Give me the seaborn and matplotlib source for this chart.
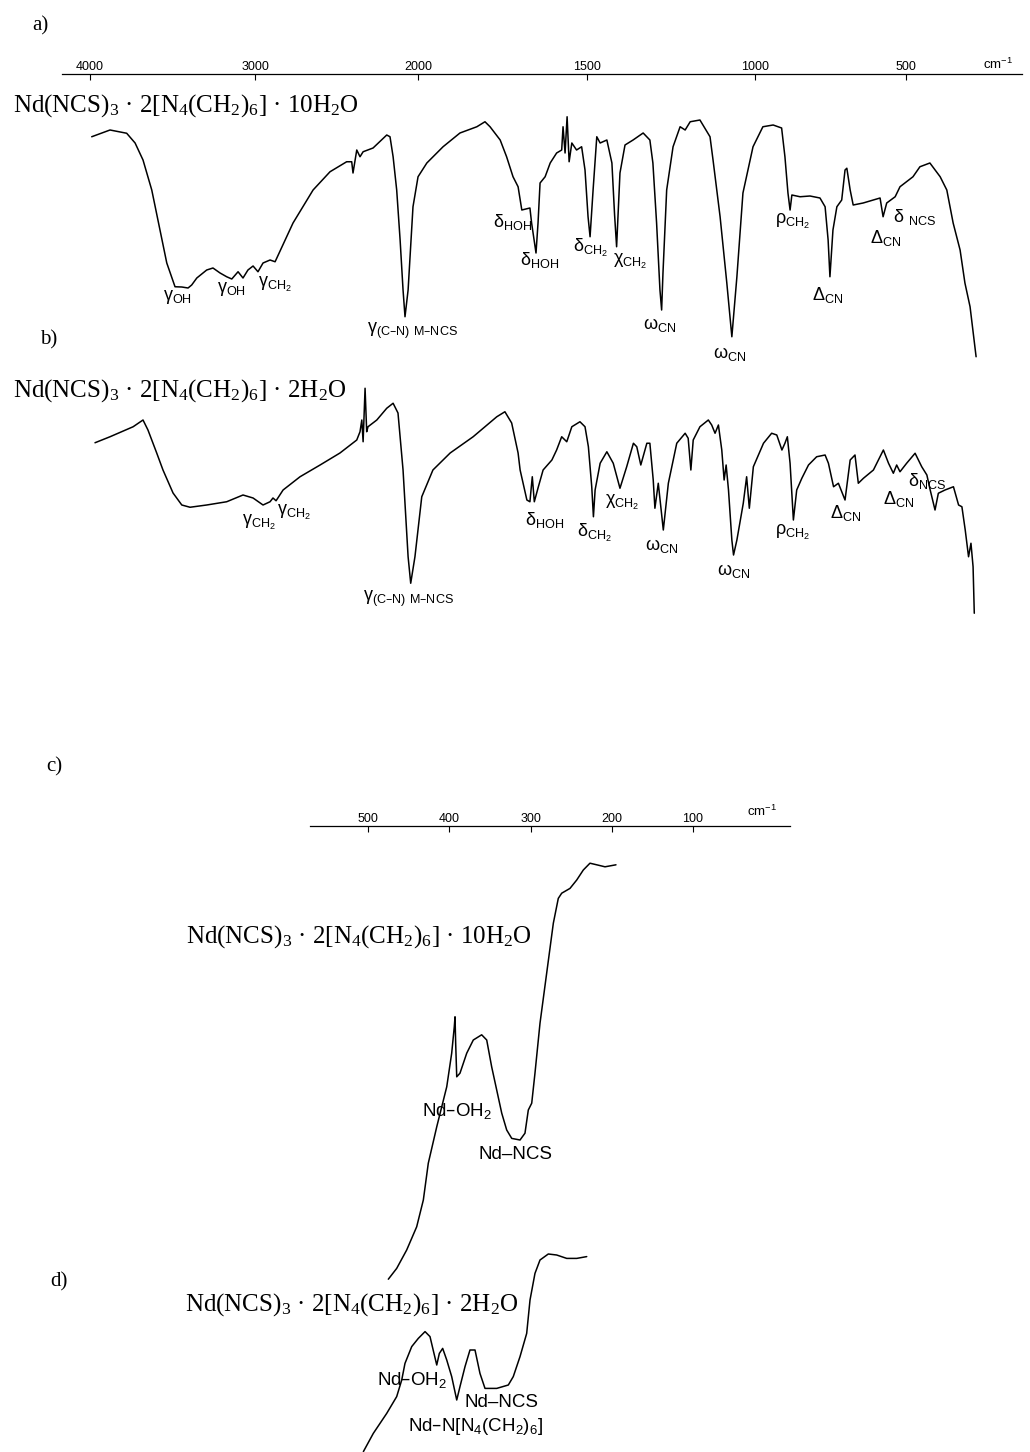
import numpy as np
import matplotlib
matplotlib.use("Agg")
import matplotlib.pyplot as plt
import seaborn as sns

# IR spectra of Nd(NCS)3 . 2 hexamine . n H2O
# wavenumber in cm-1, transmittance in arbitrary % units

# a) decahydrate, 4000-250 cm-1
WN_A = [3990, 3879, 3778, 3727, 3679, 3626, 3576, 3535, 3485, 3444,
        3406, 3384, 3353, 3293, 3255, 3212, 3172, 3141, 3103, 3073,
        3043, 3012, 2982, 2951, 2908, 2877, 2767, 2644, 2540, 2438,
        2407, 2399, 2376, 2356, 2337, 2276, 2192, 2172, 2153, 2131,
        2110, 2092, 2080, 2061, 2031, 2000, 1974, 1926, 1876, 1826,
        1802, 1787, 1757, 1738, 1719, 1704, 1693, 1669, 1664, 1651,
        1645, 1639, 1624, 1609, 1590, 1575, 1571, 1565, 1559, 1553,
        1545, 1531, 1516, 1506, 1497, 1491, 1482, 1471, 1461, 1441,
        1426, 1418, 1412, 1402, 1387, 1363, 1333, 1313, 1304, 1293,
        1283, 1278, 1274, 1263, 1244, 1223, 1208, 1193, 1164, 1134,
        1125, 1104, 1084, 1069, 1054, 1036, 1006, 974, 940, 912,
        901, 891, 884, 878, 851, 818, 785, 768, 758, 752,
        742, 729, 713, 702, 696, 685, 675, 642, 586, 576,
        564, 536, 520, 477, 454, 421, 387, 365, 344, 321,
        305, 288, 268]
T_A = [89.3, 92, 90.7, 86.8, 80, 68, 52, 38.8, 29.3, 29.2,
       28.8, 30, 32.8, 36, 36.8, 34.8, 33.3, 32.4, 35.3, 32.8,
       36, 37.6, 35.3, 38.8, 40, 39.3, 54.8, 68, 75.3, 79.3,
       79.3, 74.8, 84, 81.3, 83.3, 84.8, 90, 89.3, 81.3, 68,
       48, 28, 17.3, 28, 61.3, 73.3, 78.8, 85.3, 90.8, 93.3,
       95.3, 93.3, 88, 81.3, 73.3, 69.3, 60, 60.8, 54.8, 42.8,
       54.8, 70.8, 73.3, 78.8, 82.8, 84, 93.3, 82.8, 97.3, 79.3,
       86.8, 84, 85.3, 76, 57.3, 49.3, 68, 89.3, 86.8, 88,
       78.8, 58, 45.3, 74.8, 86, 88, 90.8, 88, 78.8, 54.8,
       28, 20, 34.8, 68, 85.3, 93.3, 92, 95.3, 96, 89.3,
       80, 57.3, 30.8, 9.3, 33.3, 66.8, 85.3, 93.3, 94, 92.8,
       81.3, 66.8, 60, 66, 65.3, 65.6, 64.8, 61.3, 48, 33.3,
       52, 61.3, 64, 76, 76.7, 68, 62, 62.8, 64.8, 57.3,
       62.8, 65.3, 69.3, 73.3, 77.3, 78.8, 73.3, 68, 54.8, 44,
       30.8, 21.3, 1.3]

# b) dihydrate, 4000-250 cm-1
WN_B = [3970, 3879, 3739, 3679, 3649, 3596, 3558, 3497, 3444, 3394,
        3293, 3172, 3073, 3012, 2951, 2908, 2890, 2871, 2828, 2724,
        2601, 2479, 2376, 2356, 2345, 2337, 2325, 2315, 2307, 2253,
        2192, 2153, 2123, 2092, 2061, 2045, 2019, 1989, 1956, 1905,
        1837, 1767, 1743, 1723, 1704, 1698, 1678, 1669, 1662, 1656,
        1644, 1630, 1604, 1590, 1575, 1560, 1545, 1521, 1506, 1496,
        1486, 1481, 1476, 1461, 1441, 1422, 1402, 1382, 1362, 1352,
        1340, 1322, 1313, 1303, 1298, 1288, 1273, 1258, 1233, 1208,
        1199, 1191, 1184, 1164, 1139, 1129, 1119, 1109, 1099, 1092,
        1086, 1079, 1069, 1064, 1054, 1035, 1025, 1017, 1005, 972,
        945, 928, 911, 901, 893, 884, 873, 862, 845, 823,
        796, 768, 757, 740, 724, 702, 685, 669, 658, 641,
        608, 575, 558, 542, 531, 520, 498, 470, 448, 431,
        420, 404, 393, 371, 343, 326, 315, 304, 293, 285,
        278, 274]
T_B = [68.9, 71.3, 75.3, 78, 74, 64.8, 58, 48.8, 44, 43.1,
       44, 45.3, 48, 46.8, 44, 45.3, 46.8, 45.7, 50, 55.3,
       60, 64.8, 70, 73.3, 78, 69.3, 90.7, 73.3, 75.3, 78,
       82.7, 84.7, 80.8, 58, 23.3, 12.7, 23.3, 47.3, 58, 64.8,
       71.3, 79.3, 81.3, 76.8, 64.8, 58, 46, 45.3, 55.3, 45.3,
       51.3, 58, 62, 66, 71.3, 69.3, 75.3, 77.3, 75.3, 67.3,
       51.3, 39.3, 50, 60.7, 65.3, 60.7, 50.7, 59.3, 68.7, 67.3,
       60, 68.7, 68.7, 54, 42.7, 52.7, 34, 52.7, 68.7, 72.7,
       70.7, 58, 70, 75.3, 78, 76, 72.7, 76, 66, 54,
       60, 50, 30, 24, 30, 44.7, 55.3, 42.7, 59.3, 68.7,
       72.7, 72, 66, 68.7, 71.3, 60.7, 38, 50, 54.7, 60,
       63.3, 64, 60.7, 51.3, 52.7, 46, 62, 64, 52.7, 54.7,
       58, 66, 60.7, 56.7, 60, 57.3, 60.7, 64.7, 59.3, 56,
       50, 42, 48.7, 50, 51.3, 44, 43.3, 34, 23.3, 28.7,
       19.3, 0.7]

# c) decahydrate, far IR
WN_C = [475.0, 464.7, 452.4, 440.1, 431.9, 425.8, 415.4, 403.1, 397.0, 393.8,
        392.9, 392.1, 390.8, 386.8, 378.5, 370.4, 360.1, 353.9, 347.8, 341.6,
        335.4, 329.3, 323.1, 312.9, 306.8, 302.7, 298.5, 294.5, 288.3, 280.1,
        271.9, 265.8, 261.6, 251.4, 243.1, 235.0, 226.8, 218.5, 208.3, 194.8]
T_C = [0.2, 2.9, 7.5, 13.3, 20, 29.2, 38.3, 48.3, 56.7, 63.3,
       65.8, 59.2, 50.8, 51.7, 56.7, 60, 61.3, 60, 53.3, 47.5,
       41.7, 37.5, 35.4, 35, 36.7, 42.5, 44.2, 51.7, 64.2, 76.7,
       89.2, 95.4, 96.7, 97.9, 100, 102.5, 104.2, 103.8, 103.3, 103.8]

# d) dihydrate, far IR
WN_D = [505.7, 493.5, 477.0, 464.7, 458.5, 454.5, 446.2, 438.1, 429.8, 423.7,
        418.8, 415.4, 412.2, 408.1, 403.1, 397.0, 390.8, 386.8, 380.6, 374.5,
        368.3, 362.2, 356.0, 341.6, 327.3, 321.2, 312.9, 304.7, 300.6, 294.5,
        288.3, 278.1, 267.8, 255.4, 243.1, 230.8]
T_D = [0.2, 9.3, 19.3, 27.7, 36, 44.3, 52.7, 56.8, 60.2, 57.7,
       49.3, 43.5, 49.3, 51.8, 46, 37.7, 26, 32.7, 42.7, 51,
       51, 39.3, 31.8, 31.8, 33.5, 37.7, 47.7, 59.3, 76, 89.3,
       96, 99, 98.5, 96.8, 96.8, 97.7]

MID_TICKS = [4000, 3000, 2000, 1500, 1000, 500]
FAR_TICKS = [500, 400, 300, 200, 100]

FORMULA_10 = "Nd(NCS)$_3$ · 2[N$_4$(CH$_2$)$_6$] · 10H$_2$O"
FORMULA_2 = "Nd(NCS)$_3$ · 2[N$_4$(CH$_2$)$_6$] · 2H$_2$O"

# chart paper scale of the spectrometer: 2000 cm-1 is a change of scale
SCALE_WN = np.array([500, 1000, 1500, 2000, 3000, 4000], dtype=float)
SCALE_POS = np.array([906, 755, 587, 418, 255, 90], dtype=float)


def paper_fwd(w):
    # increasing in wavenumber (negative paper position)
    w = np.asarray(w, dtype=float)
    p = np.interp(w, SCALE_WN, SCALE_POS)
    p = np.where(w < 500, 906 + (500 - w) * 0.302, p)
    p = np.where(w > 4000, 90 - (w - 4000) * 0.165, p)
    return -p


def paper_inv(q):
    p = -np.asarray(q, dtype=float)
    w = np.interp(p, SCALE_POS[::-1], SCALE_WN[::-1])
    w = np.where(p > 906, 500 - (p - 906) / 0.302, w)
    w = np.where(p < 90, 4000 + (90 - p) / 0.165, w)
    return w


sns.set_style("white")
SERIF = ["Liberation Serif", "DejaVu Serif"]
SANS = ["Liberation Sans", "DejaVu Sans"]
plt.rcParams.update({
    "font.family": SANS,
    "mathtext.default": "regular",
    "text.color": "black",
    "axes.edgecolor": "black",
    "xtick.color": "black",
})

W, H = 1030, 1452
fig = plt.figure(figsize=(W / 100, H / 100), dpi=100)


def px_axes(x0, y0, x1, y1):
    ax = fig.add_axes([x0 / W, 1 - y1 / H, (x1 - x0) / W, (y1 - y0) / H])
    ax.patch.set_visible(False)
    return ax


def draw(ax, wn, t):
    sns.lineplot(x=wn, y=t, ax=ax, sort=False, estimator=None,
                 color="black", linewidth=1.1)
    for ln in ax.lines:
        ln.set_clip_on(False)
    ax.set_xlabel("")
    ax.set_ylabel("")
    ax.set_yticks([])
    sns.despine(ax=ax, left=True, bottom=True, right=True, top=True)


def top_axis(ax, ticks):
    ax.spines["top"].set_visible(True)
    ax.spines["top"].set_linewidth(0.9)
    ax.set_xticks(ticks, [str(t) for t in ticks])
    ax.xaxis.tick_top()
    ax.tick_params(axis="x", direction="in", length=4, width=0.8, pad=1,
                   labelsize=9, top=True, bottom=False,
                   labeltop=True, labelbottom=False)
    for lab in ax.get_xticklabels():
        lab.set_fontfamily(SANS)


def put(x, y, s, size=13, family=SANS):
    fig.text(x / W, 1 - y / H, s, fontsize=size, family=family,
             ha="left", va="top", color="black")


# --- a) ---
ax_a = px_axes(62, 74, 1022, 360)
draw(ax_a, WN_A, T_A)
ax_a.set_xscale("function", functions=(paper_fwd, paper_inv))
ax_a.set_xlim(4170, 116)
ax_a.set_ylim(0, 114.4)
top_axis(ax_a, MID_TICKS)

# --- b) ---
ax_b = px_axes(62, 365, 1022, 615)
draw(ax_b, WN_B, T_B)
ax_b.set_xscale("function", functions=(paper_fwd, paper_inv))
ax_b.set_xlim(4170, 116)
ax_b.set_ylim(0, 100)
ax_b.set_xticks([])

# --- c) ---
ax_c = px_axes(310, 826, 790, 1280)
draw(ax_c, WN_C, T_C)
ax_c.set_xlim(571.4, -19.4)
ax_c.set_ylim(0, 113.5)
top_axis(ax_c, FAR_TICKS)

# --- d) ---
ax_d = px_axes(310, 1252, 790, 1452)
draw(ax_d, WN_D, T_D)
ax_d.set_xlim(571.4, -19.4)
ax_d.set_ylim(0, 100)
ax_d.set_xticks([])

# units on the scales
put(983, 57, "cm$^{-1}$", size=9.5)
put(747, 804, "cm$^{-1}$", size=9.5)

# panel letters and formulas
put(32, 16, "a)", size=15, family=SERIF)
put(40, 330, "b)", size=15, family=SERIF)
put(46, 757, "c)", size=15, family=SERIF)
put(50, 1272, "d)", size=15, family=SERIF)
put(13, 92, FORMULA_10, size=18, family=SERIF)
put(13, 377, FORMULA_2, size=18, family=SERIF)
put(186, 923, FORMULA_10, size=18, family=SERIF)
put(185, 1291, FORMULA_2, size=18, family=SERIF)

# band assignments, spectrum a
put(163, 288, "γ$_{OH}$")
put(217, 280, "γ$_{OH}$")
put(258, 275, "γ$_{CH_2}$")
put(367, 321, "γ$_{(C–N)\\ M–NCS}$")
put(493, 212, "δ$_{HOH}$")
put(520, 250, "δ$_{HOH}$")
put(573, 237, "δ$_{CH_2}$")
put(613, 252, "χ$_{CH_2}$")
put(643, 316, "ω$_{CN}$")
put(713, 345, "ω$_{CN}$")
put(775, 212, "ρ$_{CH_2}$")
put(812, 285, "Δ$_{CN}$")
put(870, 228, "Δ$_{CN}$")
put(893, 207, "δ $_{NCS}$")

# band assignments, spectrum b
put(242, 513, "γ$_{CH_2}$")
put(277, 503, "γ$_{CH_2}$")
put(363, 589, "γ$_{(C–N)\\ M–NCS}$")
put(525, 510, "δ$_{HOH}$")
put(577, 522, "δ$_{CH_2}$")
put(605, 493, "χ$_{CH_2}$")
put(645, 537, "ω$_{CN}$")
put(717, 562, "ω$_{CN}$")
put(775, 523, "ρ$_{CH_2}$")
put(830, 503, "Δ$_{CN}$")
put(883, 489, "Δ$_{CN}$")
put(908, 471, "δ$_{NCS}$")

# far IR assignments
put(422, 1101, "Nd–OH$_2$", size=13.5)
put(478, 1146, "Nd–NCS", size=13.5)
put(377, 1370, "Nd–OH$_2$", size=13.5)
put(465, 1394, "Nd–NCS", size=13.5)
put(408, 1416, "Nd–N[N$_4$(CH$_2$)$_6$]", size=13.5)

fig.savefig("out.png", dpi=100)
plt.close(fig)
